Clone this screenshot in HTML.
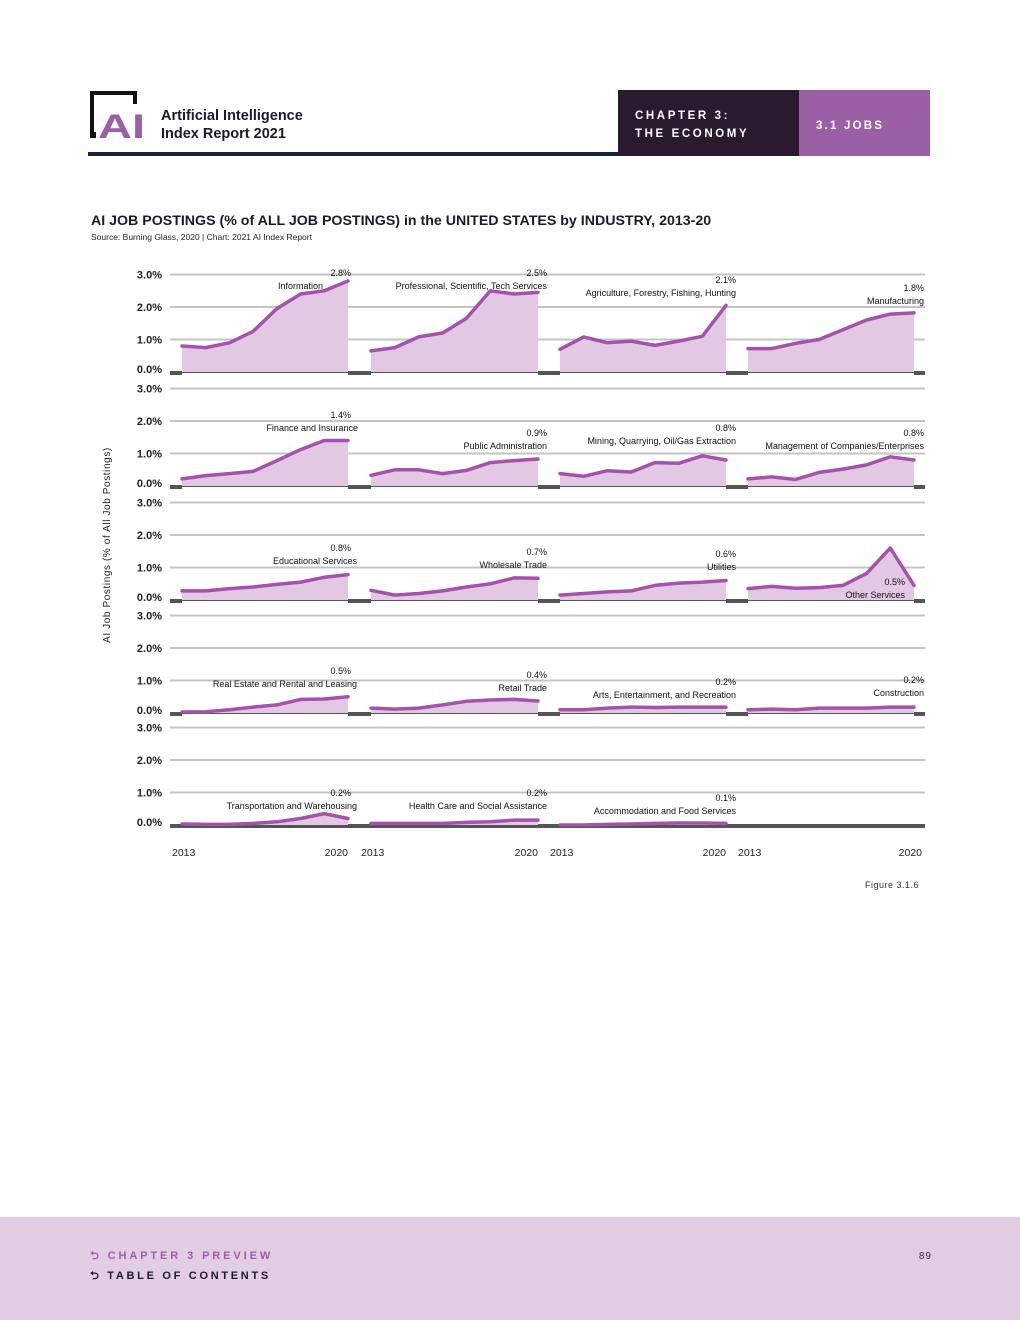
<!DOCTYPE html>
<html><head><meta charset="utf-8">
<style>
body{margin:0;background:#fff;}
#page{position:relative;width:1020px;height:1320px;overflow:hidden;font-family:"Liberation Sans",sans-serif;background:#fff;}
svg text{font-family:"Liberation Sans",sans-serif;}
</style></head>
<body>
<div id="page">
<svg id="chart" width="1020" height="1320">
  <g>
    <g>
      <path d="M92 136 L92 93 L135 93 L135 104" fill="none" stroke="#111" stroke-width="4"/>
      <rect x="90" y="132" width="6" height="6" fill="#111"/>
      <text x="98" y="138" font-size="34" font-weight="bold" fill="#9b5fa5" textLength="47" lengthAdjust="spacingAndGlyphs">AI</text>
    </g>
    <text x="161" y="120" font-size="14.5" font-weight="bold" fill="#1a1a2e">Artificial Intelligence</text>
    <text x="161" y="138" font-size="14.5" font-weight="bold" fill="#1a1a2e">Index Report 2021</text>
    <rect x="88" y="152" width="532" height="4" fill="#16213a"/>
    <rect x="618" y="90" width="181" height="66" fill="#2a1a2d"/>
    <text x="635" y="119" font-size="11.5" font-weight="bold" fill="#fff" letter-spacing="2.6">CHAPTER 3:</text>
    <text x="635" y="137" font-size="11.5" font-weight="bold" fill="#fff" letter-spacing="2.6">THE ECONOMY</text>
    <rect x="799" y="90" width="131" height="66" fill="#9b5fa5"/>
    <text x="816" y="129" font-size="11.5" font-weight="bold" fill="#fff" letter-spacing="2.2">3.1 JOBS</text>
  </g>
  <text x="91" y="225" font-size="14.2" font-weight="bold" fill="#1a1a2e">AI JOB POSTINGS (% of ALL JOB POSTINGS) in the UNITED STATES by INDUSTRY, 2013-20</text>
  <text x="91" y="240" font-size="8.5" fill="#222">Source: Burning Glass, 2020 | Chart: 2021 AI Index Report</text>
  <text transform="translate(110,545) rotate(-90)" text-anchor="middle" font-size="10" fill="#222" letter-spacing="0.6">AI Job Postings (% of  All Job Postings)</text>
  <g id="plots"></g>
  <text x="919" y="888" text-anchor="end" font-size="9" fill="#333" letter-spacing="0.5">Figure 3.1.6</text>
  <g>
    <rect x="0" y="1217" width="1020" height="103" fill="#e2cde2"/>
    <text x="90" y="1259" font-size="11" font-weight="bold" fill="#9b5fa5" letter-spacing="2.9">⮌ CHAPTER 3 PREVIEW</text>
    <text x="90" y="1279" font-size="11" font-weight="bold" fill="#1a1a2e" letter-spacing="2.7">⮌ TABLE OF CONTENTS</text>
    <text x="932" y="1259" text-anchor="end" font-size="10" fill="#333" letter-spacing="1">89</text>
  </g>
</svg>
</div>
<script>
const years = [2013,2014,2015,2016,2017,2018,2019,2020];
const yTicks = [0,1,2,3];
const yTickLabels = ["0.0%","1.0%","2.0%","3.0%"];
const industries = [
 "Information","Professional, Scientific, Tech Services","Agriculture, Forestry, Fishing, Hunting","Manufacturing",
 "Finance and Insurance","Public Administration","Mining, Quarrying, Oil/Gas Extraction","Management of Companies/Enterprises",
 "Educational Services","Wholesale Trade","Utilities","Other Services",
 "Real Estate and Rental and Leasing","Retail Trade","Arts, Entertainment, and Recreation","Construction",
 "Transportation and Warehousing","Health Care and Social Assistance","Accommodation and Food Services"];
const valueLabels = ["2.8%","2.5%","2.1%","1.8%","1.4%","0.9%","0.8%","0.8%","0.8%","0.7%","0.6%","0.5%","0.5%","0.4%","0.2%","0.2%","0.2%","0.2%","0.1%"];
const sInformation=[0.8,0.75,0.9,1.25,1.95,2.4,2.5,2.8];
const sProfessional=[0.65,0.75,1.08,1.2,1.65,2.5,2.4,2.45];
const sAgriculture=[0.7,1.08,0.9,0.95,0.82,0.95,1.1,2.05];
const sManufacturing=[0.72,0.72,0.88,1.0,1.3,1.6,1.78,1.82];
const sFinance=[0.22,0.32,0.38,0.45,0.78,1.12,1.4,1.4];
const sPublicAdmin=[0.33,0.5,0.5,0.38,0.48,0.72,0.78,0.83];
const sMining=[0.38,0.3,0.47,0.43,0.72,0.7,0.93,0.8];
const sManagement=[0.22,0.28,0.2,0.42,0.52,0.65,0.9,0.8];
const sEducational=[0.28,0.28,0.35,0.4,0.48,0.55,0.7,0.78];
const sWholesale=[0.3,0.15,0.2,0.28,0.4,0.5,0.68,0.67];
const sUtilities=[0.15,0.2,0.25,0.28,0.45,0.52,0.55,0.6];
const sOther=[0.35,0.42,0.36,0.38,0.45,0.82,1.6,0.45];
const sRealEstate=[0.03,0.04,0.1,0.18,0.25,0.42,0.43,0.5];
const sRetail=[0.15,0.12,0.15,0.25,0.36,0.4,0.42,0.37];
const sArts=[0.1,0.1,0.15,0.18,0.17,0.18,0.18,0.18];
const sConstruction=[0.1,0.12,0.1,0.15,0.15,0.15,0.18,0.18];
const sTransport=[0.03,0.02,0.02,0.05,0.1,0.2,0.35,0.2];
const sHealth=[0.05,0.05,0.05,0.05,0.08,0.1,0.15,0.15];
const sAccommodation=[0.0,0.0,0.02,0.03,0.05,0.06,0.06,0.05];
const series=[sInformation,sProfessional,sAgriculture,sManufacturing,sFinance,sPublicAdmin,sMining,sManagement,sEducational,sWholesale,sUtilities,sOther,sRealEstate,sRetail,sArts,sConstruction,sTransport,sHealth,sAccommodation];

// layout
const rowBase=[372,486,600,713,825];
const pxPerPct=32.5;
const panelX=[[182,348],[371,538],[560,726],[748,914]];
const nameRight=[323,547,736,924,358,547,736,924,357,547,736,905,357,547,736,924,357,547,736];
const nameY=[289,289,296,304,431,449,444,449,564,568,570,598,687,691,698,696,809,809,814];

const NS="http://www.w3.org/2000/svg";
const root=document.getElementById('plots');
function mk(tag,attrs,parent){const e=document.createElementNS(NS,tag);for(const k in attrs)e.setAttribute(k,attrs[k]);(parent||root).appendChild(e);return e;}
function yScale(row,v){return rowBase[row]-v*pxPerPct;}
function xScale(col,i){const p=panelX[col];return p[0]+(p[1]-p[0])*i/(years.length-1);}

for(let r=0;r<5;r++){
  const g=mk('g',{});
  
  
  yTicks.forEach((t,i)=>{
    const y=yScale(r,t);
    if(t>0){const l=mk('line',{x1:170,x2:925,y1:y,y2:y,stroke:'#c4c4c4','stroke-width':2},g);
      
      }
    const tx=mk('text',{x:162,y:y+(t===0?1:4),'text-anchor':'end','font-size':11,'font-weight':'bold',fill:'#222'},g);
    
    
    tx.textContent=yTickLabels[i];
  });
  const base=mk('rect',{x:170,y:rowBase[r]-1,width:755,height:4,fill:'#555'},g);
  
  
}
series.forEach((s,k)=>{
  const r=Math.floor(k/4),c=k%4;
  const g=mk('g',{});
  
  
  const b=rowBase[r];
  if(r<4){const w=mk('rect',{x:panelX[c][0],y:b-1,width:panelX[c][1]-panelX[c][0],height:4,fill:'#fff'},g);
    
    
    const tl=mk('line',{x1:panelX[c][0],x2:panelX[c][1],y1:b+0.5,y2:b+0.5,stroke:'#555','stroke-width':1},g);
    
    }
  let pts=s.map((v,i)=>xScale(c,i).toFixed(1)+','+yScale(r,v).toFixed(1));
  const area=mk('path',{d:'M'+xScale(c,0)+','+b+' L'+pts.join(' L')+' L'+xScale(c,7)+','+b+' Z',fill:'#e2c8e2'},g);
  
  
  const line=mk('polyline',{points:pts.join(' '),fill:'none',stroke:'#a452ac','stroke-width':3.5,'stroke-linejoin':'round','stroke-linecap':'round'},g);
  
  
  const nm=mk('text',{x:nameRight[k],y:nameY[k],'text-anchor':'end','font-size':9,fill:'#111'},g);
  
  
  nm.textContent=industries[k];
  const vl=mk('text',{x:(c===0?panelX[c][1]+3:Math.min(nameRight[k],panelX[c][1]+10)),y:nameY[k]-13,'text-anchor':'end','font-size':9,fill:'#111'},g);
  
  
  vl.textContent=valueLabels[k];
});
for(let c=0;c<4;c++){
  [0,7].forEach(i=>{
    const t=mk('text',{x:(i===0?panelX[c][0]-10:panelX[c][1]+(c===3?8:0)),y:856,'text-anchor':(i===0?'start':'end'),'font-size':10.5,fill:'#222'});
    
    
    t.textContent=years[i];
  });
}
</script>
</body></html>
